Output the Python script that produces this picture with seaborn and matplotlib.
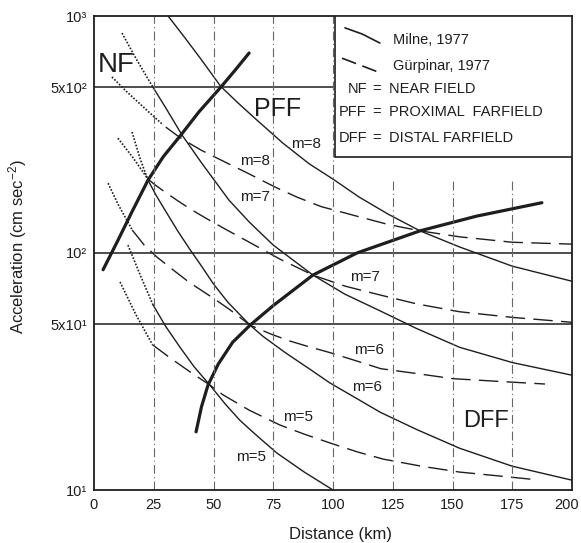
import seaborn as sns
import matplotlib.pyplot as plt
from matplotlib.patches import Rectangle
from matplotlib.ticker import NullLocator
from matplotlib.transforms import ScaledTranslation

# Milne, 1977 (solid, dotted below 25 km)
milne_m5_x = [24.7, 30, 36, 42, 48.5, 55, 61, 68, 76.6, 88, 100]
milne_m5_y = [60.4, 49, 40, 33, 27.7, 23, 19.7, 17, 14.3, 11.9, 10]
milne_m5_dot_x = [14.2, 19.5, 24.7]
milne_m5_dot_y = [108, 80, 60.4]

milne_m6_x = [22.6, 26, 30, 35, 40, 45, 50, 56, 65.3, 70.7, 80, 90, 98.7, 110, 119.7, 135, 153, 175, 200]
milne_m6_y = [203, 175, 150, 124, 104, 88, 74, 62, 49.6, 44.5, 38, 32.5, 28.3, 24.3, 21.3, 18, 15, 12.6, 11]
milne_m6_dot_x = [15.9, 19.3, 22.6]
milne_m6_dot_y = [324, 250, 203]

milne_m7_x = [24.7, 30, 36.8, 45, 56.5, 65, 75, 91.6, 105, 119.7, 135, 153, 175, 200]
milne_m7_y = [500, 410, 315, 240, 167, 135, 108, 80.7, 67, 57, 48, 40, 34.5, 30.5]
milne_m7_dot_x = [11.7, 18, 24.7]
milne_m7_dot_y = [847, 650, 500]

milne_m8_x = [31, 38, 44.4, 53, 60, 68, 79, 90, 100, 111, 123, 136.4, 153, 175, 200]
milne_m8_y = [1000, 810, 665, 505, 432, 365, 291, 238, 205, 172, 146, 124, 106, 88, 76]

# Gurpinar, 1977 (dashed, dotted near the source)
gurp_m5_x = [24.5, 32, 40.2, 48.5, 54, 65, 77.8, 88, 98.7, 110, 121, 137, 153, 168, 183]
gurp_m5_y = [41, 36, 31.5, 27.7, 25.2, 21.7, 18.8, 17.2, 15.8, 14.5, 13.5, 12.6, 11.9, 11.5, 11.1]
gurp_m5_dot_x = [10.9, 17.5, 24.5]
gurp_m5_dot_y = [75.5, 55, 41]

gurp_m6_x = [16, 21, 26.4, 33, 40, 49.8, 57, 65.3, 74, 82, 90, 98.7, 110, 120, 135, 150, 170, 188.7]
gurp_m6_y = [125, 108, 96, 85, 75, 64.6, 57.5, 49.6, 45.5, 42.5, 40.2, 38, 35, 32.5, 31, 29.5, 28.7, 28]
gurp_m6_dot_x = [5.9, 10, 16]
gurp_m6_dot_y = [197, 161, 125]

gurp_m7_x = [22.6, 25.5, 30, 34.7, 40, 46.4, 55, 65, 78, 91.6, 105, 119.7, 135, 153, 175, 200]
gurp_m7_y = [205, 194, 180, 167, 154, 141, 126, 111, 94, 80.7, 72.5, 66.5, 61, 56.5, 53.5, 51]
gurp_m7_dot_x = [10, 16, 22.6]
gurp_m7_dot_y = [305, 255, 205]

gurp_m8_x = [30, 35, 40, 45, 50.6, 57, 64, 70, 76.6, 85, 95, 110, 123, 136.4, 153, 175, 200]
gurp_m8_y = [340, 312, 290, 271, 254, 236, 218, 203, 188, 172, 157, 143, 132, 124, 117, 111, 109]
gurp_m8_dot_x = [7.5, 13.8, 21, 28.9]
gurp_m8_dot_y = [553, 478, 410, 347]

# field boundaries (thick)
nf_x = [3.8, 10, 16, 22.6, 29, 36.4, 44, 53, 59, 64.9]
nf_y = [85, 113, 150, 203, 255, 315, 395, 500, 590, 698]
dff_x = [42.7, 45, 47.7, 52, 58, 65.3, 75, 91.6, 110, 136.4, 160, 187.4]
dff_y = [17.6, 22.5, 27.7, 34, 42, 49.6, 60, 80.7, 100, 124, 143, 163]

# reference lines
hline_y = [50, 100, 500]
hline_end = [200, 200, 100]
vline_x = [25, 50, 75, 100, 125, 150, 175]
vline_top = [1000, 1000, 1000, 1000, 203, 203, 203]

xticks = [0, 25, 50, 75, 100, 125, 150, 175, 200]
yticks = [10, 50, 100, 500, 1000]
ytick_labels = ["10¹", "5x10¹", "10²", "5x10²", "10³"]

sns.set_style("white")
plt.rcParams['font.family'] = ['Liberation Sans', 'DejaVu Sans']
plt.rcParams['mathtext.fontset'] = 'custom'
plt.rcParams['mathtext.rm'] = 'Liberation Sans'
plt.rcParams['mathtext.it'] = 'Liberation Sans:italic'

ink = '#1e1e1e'
dash = (0, (14, 6))
dot = (0, (1, 1))

fig = plt.figure(figsize=(5.81, 5.43), dpi=100)
ax = fig.add_axes([94 / 581, 53 / 543, 478 / 581, 474 / 543])
ax.set_yscale('log')
ax.set_xlim(0, 200)
ax.set_ylim(10, 1000)


def curve(x, y, ls, lw=1.0):
    sns.lineplot(x=x, y=y, ax=ax, color=ink, lw=lw, linestyle=ls,
                 sort=False, estimator=None)


for x, y in [(milne_m5_x, milne_m5_y), (milne_m6_x, milne_m6_y),
             (milne_m7_x, milne_m7_y), (milne_m8_x, milne_m8_y)]:
    curve(x, y, '-')
for x, y in [(gurp_m5_x, gurp_m5_y), (gurp_m6_x, gurp_m6_y),
             (gurp_m7_x, gurp_m7_y), (gurp_m8_x, gurp_m8_y)]:
    curve(x, y, dash)
for x, y in [(milne_m5_dot_x, milne_m5_dot_y), (milne_m6_dot_x, milne_m6_dot_y),
             (milne_m7_dot_x, milne_m7_dot_y), (gurp_m5_dot_x, gurp_m5_dot_y),
             (gurp_m6_dot_x, gurp_m6_dot_y), (gurp_m7_dot_x, gurp_m7_dot_y),
             (gurp_m8_dot_x, gurp_m8_dot_y)]:
    curve(x, y, dot, lw=1.2)
curve(nf_x, nf_y, '-', lw=2.3)
curve(dff_x, dff_y, '-', lw=2.3)

for y, xe in zip(hline_y, hline_end):
    ax.hlines(y, 0, xe, color=ink, lw=1.1)
for x, yt in zip(vline_x, vline_top):
    ax.vlines(x, 10, yt, color='#666666', lw=0.8, linestyles=[(0, (8, 3, 1, 3))])

# legend box
ax.add_patch(Rectangle((0.504, 0.7025), 0.496, 0.2975, transform=ax.transAxes,
                       facecolor='white', edgecolor=ink, lw=1.2, zorder=3))
ax.plot([0.525, 0.561, 0.598], [0.975, 0.962, 0.943], transform=ax.transAxes,
        color=ink, lw=1.2, zorder=4)
ax.plot([0.519, 0.594], [0.911, 0.882], transform=ax.transAxes,
        color=ink, lw=1.2, linestyle=(0, (9, 4)), zorder=4)
leg_kw = dict(transform=ax.transAxes, fontsize=10.5, color=ink, va='center', zorder=5)
ax.text(0.6255, 0.949, "Milne, 1977", **leg_kw)
ax.text(0.6255, 0.894, "Gürpinar, 1977", **leg_kw)
for yy, abbr, words in [(0.846, "NF", "NEAR FIELD"),
                        (0.798, "PFF", "PROXIMAL  FARFIELD"),
                        (0.743, "DFF", "DISTAL FARFIELD")]:
    ax.text(0.571, yy, abbr, ha='right', **leg_kw)
    ax.text(0.592, yy, "=", ha='center', **leg_kw)
    ax.text(0.617, yy, words, ha='left', **leg_kw)

# zone and curve labels
ax.text(9.2, 621, "NF", fontsize=20, color=ink, ha='center', va='center')
ax.text(77, 405, "PFF", fontsize=18, color=ink, ha='center', va='center')
ax.text(164, 19.5, "DFF", fontsize=17, color=ink, ha='center', va='center')
for tx, ty, lab in [(88.7, 288, "m=8"), (67.4, 244, "m=8"), (67.4, 172, "m=7"),
                    (113.4, 79, "m=7"), (115, 39, "m=6"), (114.2, 27.2, "m=6"),
                    (85.4, 20.3, "m=5"), (65.7, 13.8, "m=5")]:
    ax.text(tx, ty, lab, fontsize=11, color=ink, ha='center', va='center')

ax.set_xticks(xticks)
ax.set_yticks(yticks)
ax.set_yticklabels(ytick_labels)
ax.yaxis.set_minor_locator(NullLocator())
ax.tick_params(axis='both', length=0, labelsize=10.5, colors=ink)
ax.tick_params(axis='x', pad=6)
ax.tick_params(axis='y', pad=5)
# the last x label sits slightly inside the frame, as in the original
last = ax.get_xticklabels()[-1]
last.set_transform(last.get_transform() + ScaledTranslation(-5 / 100, 0, fig.dpi_scale_trans))
for s in ax.spines.values():
    s.set_visible(True)
    s.set_color(ink)
    s.set_linewidth(1.3)

ax.set_xlabel("Distance (km)", fontsize=12, color=ink)
ax.xaxis.set_label_coords(0.515, -0.078)
ax.set_ylabel("Acceleration (cm sec$^{-2}$)", fontsize=12, color=ink)
ax.yaxis.set_label_coords(-0.135, 0.513)

fig.savefig("out.png", dpi=100, facecolor='white')
